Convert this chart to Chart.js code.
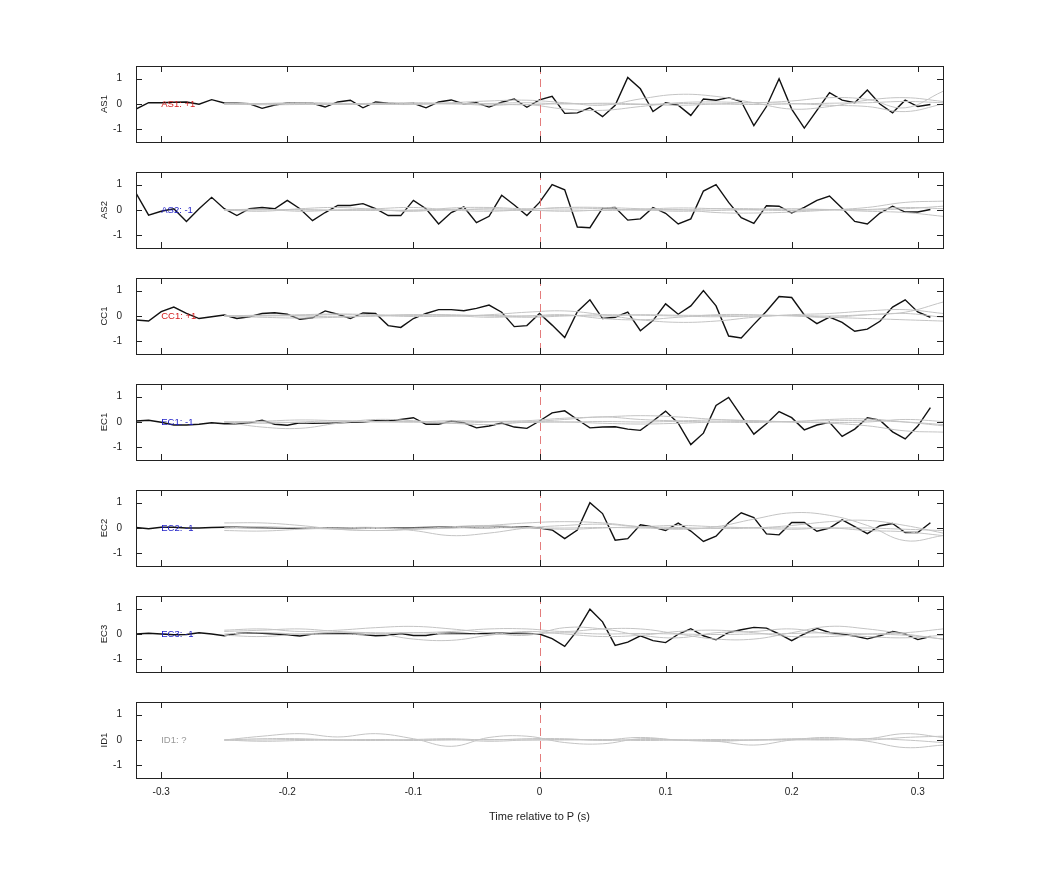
<!DOCTYPE html>
<html>
<head>
<meta charset="utf-8">
<script src="https://cdn.jsdelivr.net/npm/chart.js@4.4.0/dist/chart.umd.min.js"></script>
<style>
  body { margin: 0; background: #fff; }
  canvas { position: absolute; }
</style>
</head>
<body>
<script>
// channel names and polarity labels
var channels = ["AS1", "AS2", "CC1", "EC1", "EC2", "EC3", "ID1"];
var tags = ["AS1: +1", "AS2: -1", "CC1: +1", "EC1: -1", "EC2: -1", "EC3: -1", "ID1: ?"];
var tagColors = ["#d62020", "#2020c8", "#d62020", "#2020c8", "#2020c8", "#2020c8", "#999999"];

// time samples of the stacked trace (s)
var times = [];
for (var t = -32; t <= 31; t++) times.push(t / 100);

var xTicks = [-0.3, -0.2, -0.1, 0, 0.1, 0.2, 0.3];
var yTicks = [-1, 0, 1];

// black traces, one per channel (-0.32 .. 0.31)
var as1 = [-0.2,0.05,0.05,0.07,0.08,-0.01,0.17,0.04,0.03,0.01,-0.17,-0.04,0.04,0.04,0.03,-0.12,0.08,0.15,-0.15,0.08,0.03,0,0.03,-0.15,0.08,0.16,0,0.05,-0.12,0.07,0.2,-0.13,0.16,
  0.3,-0.37,-0.35,-0.15,-0.5,-0.05,1.05,0.6,-0.3,0.05,-0.05,-0.45,0.2,0.15,0.25,0.1,-0.85,-0.1,1.0,-0.2,-0.95,-0.25,0.45,0.15,0.05,0.55,0,-0.35,0.15,-0.1,-0.02];
var as2 = [0.67,-0.2,-0.05,0.05,-0.45,0.05,0.5,0.05,-0.22,0.05,0.1,0.05,0.38,0.05,-0.42,-0.1,0.18,0.18,0.25,0.05,-0.22,-0.22,0.38,0.05,-0.55,-0.1,0.12,-0.5,-0.25,0.58,0.2,-0.22,0.3,
  1.0,0.8,-0.67,-0.7,0.07,0.1,-0.4,-0.35,0.1,-0.13,-0.55,-0.35,0.75,1.0,0.3,-0.3,-0.53,0.17,0.15,-0.12,0.1,0.38,0.55,0.07,-0.45,-0.55,-0.12,0.15,-0.08,-0.08,0.02];
var cc1 = [-0.16,-0.2,0.17,0.35,0.1,-0.1,-0.03,0.04,-0.1,-0.03,0.1,0.13,0.07,-0.13,-0.07,0.2,0.07,-0.1,0.12,0.1,-0.38,-0.45,-0.1,0.1,0.25,0.25,0.21,0.3,0.43,0.15,-0.42,-0.38,0.1,
  -0.36,-0.85,0.17,0.64,-0.1,-0.05,0.15,-0.58,-0.18,0.48,0.07,0.4,1.0,0.4,-0.79,-0.87,-0.33,0.19,0.77,0.73,0.04,-0.3,-0.04,-0.25,-0.6,-0.52,-0.21,0.35,0.64,0.16,-0.05];
var ec1 = [0.04,0.07,-0.01,-0.12,-0.12,-0.09,-0.03,-0.07,-0.07,-0.03,0.07,-0.09,-0.13,-0.03,-0.05,-0.04,-0.03,-0.01,0,0.05,0.04,0.1,0.17,-0.09,-0.09,0.04,-0.03,-0.23,-0.16,-0.04,-0.2,-0.25,0.04,
  0.36,0.44,0.1,-0.23,-0.2,-0.19,-0.28,-0.33,0.04,0.43,-0.05,-0.89,-0.44,0.65,0.97,0.24,-0.48,-0.07,0.41,0.17,-0.31,-0.12,-0.01,-0.57,-0.28,0.17,0.07,-0.39,-0.67,-0.16,0.57];
var ec2 = [0.02,-0.03,0.03,0.03,0,0,0.02,0.03,0.03,0.02,0.01,0,0,-0.01,0,0.01,0.01,0,0,-0.01,-0.01,0,0.01,0.02,0.03,0.04,0.03,0.02,0.02,0.03,0.04,0.04,0,
  -0.08,-0.42,-0.08,1.0,0.57,-0.48,-0.42,0.13,0.04,-0.1,0.19,-0.12,-0.53,-0.32,0.21,0.6,0.41,-0.23,-0.27,0.22,0.22,-0.13,0,0.32,0.05,-0.22,0.09,0.18,-0.18,-0.18,0.21];
var ec3 = [0,0.03,0,-0.03,-0.02,0.05,0,-0.07,0.02,0.05,0.03,0,-0.03,-0.08,0,0.02,0.02,0,-0.02,-0.07,-0.05,0.02,-0.06,-0.06,0.02,0.03,0.02,0,0.03,0.03,0.03,0.02,0,
  -0.18,-0.49,0.14,0.98,0.48,-0.45,-0.32,-0.07,-0.26,-0.34,-0.01,0.21,-0.07,-0.23,0.06,0.17,0.26,0.23,0,-0.26,0,0.22,0.06,-0.01,-0.08,-0.19,-0.07,0.1,0,-0.22,-0.1];
var blackTraces = [as1, as2, cc1, ec1, ec2, ec3, null];

// grey reference traces, sampled every 0.03 s from -0.25 to 0.32
var greyTimes = [-0.25,-0.22,-0.19,-0.16,-0.13,-0.10,-0.07,-0.04,-0.01,0.02,0.05,0.08,0.11,0.14,0.17,0.20,0.23,0.26,0.29,0.32];
var greyTraces = [
  [[0,0.02,0.05,0.03,0,-0.02,0.05,0.12,0.15,0.05,-0.05,0.2,0.38,0.3,0.05,-0.2,-0.1,0.15,0.25,0.1],
   [0,-0.03,-0.02,0,0.03,0.05,0.02,-0.05,-0.02,-0.2,-0.25,-0.1,0.05,0.08,0.05,0.12,0.25,0.18,-0.15,0.5],
   [0,0.02,0,-0.02,0,0.02,0,0.02,0.05,0,0.03,0,-0.05,0,0.05,0.02,-0.05,-0.1,-0.3,0],
   [0,0,0.02,0,-0.02,0,0.02,0,-0.03,0.02,0,-0.02,0.02,0,-0.02,0,0.03,0.05,0.1,0.05]],
  [[0,-0.05,0.05,0.1,0.02,-0.05,0.08,0.1,0.05,0.08,0.05,0,0.02,-0.1,-0.12,-0.08,0,0.1,0.3,0.35],
   [0,0.03,-0.05,0,0.05,0.1,0,-0.05,0.02,0.1,0.1,0.05,0,0.05,0.05,0,0.02,0,0.05,0.15],
   [0,0,0.02,-0.02,0,-0.03,0,0.05,0,-0.05,0,0.03,0.08,0.05,0,-0.02,0,-0.05,-0.1,-0.25],
   [0,0.02,0,0,-0.02,0,0.03,0,-0.02,0,-0.02,0,-0.05,-0.02,0.02,0.05,0.02,0.02,0.1,0.05]],
  [[0,0.02,0.05,0.08,0.05,0.02,0,0.05,0.15,0.2,0.05,-0.15,-0.25,-0.2,-0.05,0.05,0.1,0.2,0.25,0.1],
   [0,-0.05,-0.08,-0.05,0,0.05,0.02,-0.05,0,0.05,-0.1,-0.15,-0.05,0.05,0.05,0,-0.05,0.05,0.15,0.55],
   [0,0.03,0,-0.03,0,0.05,0.05,0,-0.05,0,0.05,0.03,0,-0.03,0,0.02,-0.05,-0.1,-0.15,-0.2],
   [0,0,0.02,0.05,0.02,-0.02,0,0.02,0,0.02,0,0.05,0.03,0.02,0,0.02,0,0.05,0.1,-0.05]],
  [[0,-0.2,-0.25,-0.05,0.1,0.05,-0.05,0,0.05,0.15,0.2,0.25,0.2,0.1,0.05,0,-0.02,0,0.1,0.02],
   [0,0.03,0.08,0.05,0,0.02,-0.05,-0.1,0,0.1,0.2,0.1,0.05,0.08,0.05,0.02,0.1,0.12,0,-0.15],
   [0,-0.05,0,0.05,0.02,0,0.05,0.02,-0.02,0,-0.05,-0.08,-0.05,0,0.02,0,-0.05,-0.15,-0.35,-0.4],
   [0,0,-0.02,0,0.02,0,0,0.02,0.03,0,0.02,0,0.02,0,-0.02,0.02,0.05,0.05,0,-0.1]],
  [[0.2,0.2,0.1,-0.05,-0.1,-0.05,0,0.1,0.2,0.25,0.2,0.05,-0.05,0.05,0.35,0.6,0.5,0.1,-0.5,-0.3],
   [-0.1,-0.12,-0.05,0,0.02,-0.1,-0.3,-0.2,0,0.1,0.15,0.05,0.02,-0.02,0,0.1,0.25,0.3,0.1,-0.2],
   [0,0.05,0,-0.05,-0.1,-0.05,0.05,0.1,0.02,-0.05,0,0.05,0.1,0.05,0,-0.05,0,-0.1,-0.15,-0.3],
   [0,0,0.02,0,-0.02,0,0,0.02,0,0,0.02,0,-0.02,0,0.02,0,0,0,-0.05,-0.1]],
  [[0.1,0.15,0.2,0.1,0.05,0.05,0.1,0.2,0.2,0.1,0.2,0.2,0,-0.2,-0.2,0.05,0.3,0.2,0,-0.2],
   [0.15,0.2,0.1,0.15,0.25,0.3,0.2,0.05,-0.05,0.25,0.2,-0.05,-0.15,0.05,0.1,0.2,0,-0.1,-0.15,-0.05],
   [-0.05,-0.1,0,0.05,0.02,-0.2,-0.25,-0.05,0.1,0,-0.1,-0.05,0.1,0.15,0.05,-0.1,-0.1,0,0.05,0.2],
   [0,0.05,0,-0.02,0,0.05,0,-0.02,0,0.05,0,0.02,0,-0.02,0,0.02,0.05,0,-0.05,-0.2]],
  [[0,0.15,0.25,0.12,0.25,0.05,-0.25,0.1,0.15,-0.1,-0.15,0.05,0,-0.05,-0.2,0,0.1,-0.05,-0.3,-0.2],
   [0,0.05,0.05,0,-0.02,0.02,0.05,0,0.05,0.05,-0.02,0.02,0,-0.02,0,0.05,0.05,0.05,0.25,0.1],
   [0,-0.05,-0.02,0,0.02,0,0.02,-0.05,0,0.02,0,0.1,0,-0.05,0,0.02,0,0.05,0,-0.1],
   [0,0,0.02,0,0,-0.02,0,0.02,0,0,0.02,-0.02,0,0.02,0,0,0.02,0,0.1,0.15]]
];

var panelTop = 66, panelStep = 106, panelH = 76;
var left = 76, width = 880;

var framePlugin = {
  id: "frame",
  afterDraw: function (chart) {
    var ctx = chart.ctx, a = chart.chartArea;
    var xs = chart.scales.x, ys = chart.scales.y;
    var i = chart.options.plugins.frame.index;
    ctx.save();
    // zero marker
    ctx.strokeStyle = "rgba(225,110,110,0.9)";
    ctx.lineWidth = 1;
    ctx.setLineDash([8, 5]);
    var zx = Math.round(xs.getPixelForValue(0)) + 0.5;
    ctx.beginPath(); ctx.moveTo(zx, a.top); ctx.lineTo(zx, a.bottom); ctx.stroke();
    ctx.setLineDash([]);
    // box and inward ticks
    ctx.strokeStyle = "#222";
    ctx.strokeRect(a.left + 0.5, a.top + 0.5, a.right - a.left, a.bottom - a.top);
    ctx.beginPath();
    xTicks.forEach(function (v) {
      var px = Math.round(xs.getPixelForValue(v)) + 0.5;
      ctx.moveTo(px, a.top); ctx.lineTo(px, a.top + 6);
      ctx.moveTo(px, a.bottom); ctx.lineTo(px, a.bottom - 6);
    });
    yTicks.forEach(function (v) {
      var py = Math.round(ys.getPixelForValue(v)) + 0.5;
      ctx.moveTo(a.left, py); ctx.lineTo(a.left + 6, py);
      ctx.moveTo(a.right, py); ctx.lineTo(a.right - 6, py);
    });
    ctx.stroke();
    // channel tag
    ctx.font = "9.5px 'Liberation Sans', Arial, sans-serif";
    ctx.fillStyle = tagColors[i];
    ctx.textBaseline = "middle";
    ctx.fillText(tags[i], xs.getPixelForValue(-0.3), ys.getPixelForValue(0));
    // channel name
    ctx.save();
    ctx.translate(a.left - 32, (a.top + a.bottom) / 2);
    ctx.rotate(-Math.PI / 2);
    ctx.textAlign = "center";
    ctx.fillStyle = "#222";
    ctx.fillText(channels[i], 0, 0);
    ctx.restore();
    ctx.restore();
  }
};

channels.forEach(function (name, i) {
  var last = i === channels.length - 1;
  var c = document.createElement("canvas");
  var h = last ? panelH + 12 + 46 : panelH + 24;
  c.width = width;
  c.height = h;
  c.style.left = left + "px";
  c.style.top = (panelTop + i * panelStep - 12) + "px";
  document.body.appendChild(c);

  var datasets = [];
  greyTraces[i].forEach(function (g) {
    datasets.push({
      data: greyTimes.map(function (x, k) { return { x: x, y: g[k] }; }),
      borderColor: "#c4c4c4", borderWidth: 1, pointRadius: 0, tension: 0.4, fill: false
    });
  });
  if (blackTraces[i]) {
    datasets.push({
      data: times.map(function (x, k) { return { x: x, y: blackTraces[i][k] }; }),
      borderColor: "#111", borderWidth: 1.4, pointRadius: 0, tension: 0, fill: false
    });
  }

  new Chart(c, {
    type: "line",
    data: { datasets: datasets },
    plugins: [framePlugin],
    options: {
      responsive: false,
      animation: false,
      events: [],
      layout: { padding: { top: 0, bottom: 0, right: 13, left: 0 } },
      plugins: { legend: { display: false }, tooltip: { enabled: false }, frame: { index: i } },
      scales: {
        x: {
          type: "linear", min: -0.32, max: 0.32,
          display: last,
          grid: { display: false }, border: { display: false },
          afterBuildTicks: function (s) { s.ticks = xTicks.map(function (v) { return { value: v }; }); },
          afterFit: function (s) { s.height = last ? 46 : 0; },
          ticks: {
            color: "#222", font: { size: 10, family: "'Liberation Sans', Arial, sans-serif" }, padding: 0,
            maxRotation: 0,
            callback: function (v) { return v === 0 ? "0" : (Math.round(v * 10) / 10).toString(); }
          },
          title: {
            display: true, text: "Time relative to P (s)", color: "#222", padding: { top: 0, bottom: 0 },
            font: { size: 11, family: "'Liberation Sans', Arial, sans-serif" }
          }
        },
        y: {
          min: -1.5, max: 1.5,
          grid: { display: false }, border: { display: false },
          afterBuildTicks: function (s) { s.ticks = yTicks.map(function (v) { return { value: v }; }); },
          afterFit: function (s) { s.width = 60; },
          ticks: { color: "#222", font: { size: 10, family: "'Liberation Sans', Arial, sans-serif" }, padding: 6 }
        }
      }
    }
  });
});
</script>
</body>
</html>
